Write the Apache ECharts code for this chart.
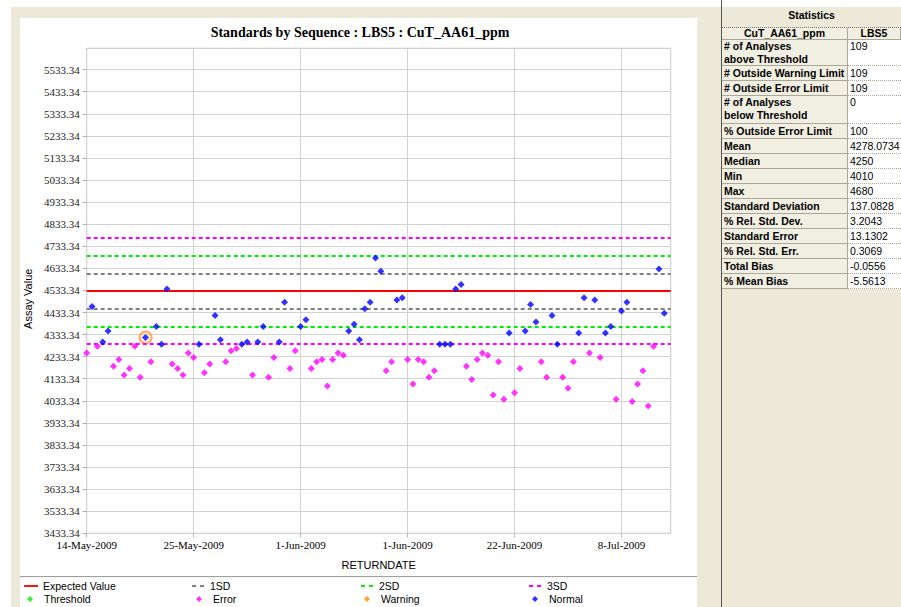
<!DOCTYPE html>
<html>
<head>
<meta charset="utf-8">
<script src="https://cdn.jsdelivr.net/npm/echarts@6/dist/echarts.min.js"></script>
<style>
  html, body { margin:0; padding:0; width:901px; height:607px; background:#fff; overflow:hidden; }
  .abs { position:absolute; box-sizing:border-box; }
  .cell { position:absolute; box-sizing:border-box; font-family:"Liberation Sans", Arial, sans-serif; font-size:10.5px; color:#000; white-space:nowrap; overflow:hidden; }
  .lab { background:#F1EFE2; border-bottom:1px solid #ACA899; border-right:1px solid #ACA899; font-weight:bold; padding-left:2px; line-height:13px; }
  .val { background:#FFFFFF; border-bottom:1px dotted #ACA899; padding-left:2px; line-height:13px; font-size:10.5px; }
</style>
</head>
<body>
<div class="abs" style="left:11px;top:7px;width:890px;height:600px;background:#ECE9D8"></div>
<div class="abs" style="left:20px;top:18px;width:677px;height:589px;background:#FFFFFF"></div>
<div class="abs" style="left:20px;top:576px;width:677px;height:2px;border-top:1px solid #A0A0A0;border-bottom:1px solid #F6F6F6"></div>
<div class="abs" style="left:721px;top:0px;width:1px;height:607px;background:#555"></div>
<div id="chart" class="abs" style="left:0;top:0;width:720px;height:607px"></div>
<div id="stats" class="abs" style="left:722px;top:0;width:179px;height:607px"></div>
<script>
// ---------------- data ----------------
const chartTitle = 'Standards by Sequence : LBS5 : CuT_AA61_ppm';
const assayValues = [
  4250, 4460, 4280, 4300, 4350, 4190, 4220, 4150, 4180, 4280,
  4140, 4320, 4210, 4370, 4290, 4540, 4200, 4180, 4150, 4250,
  4230, 4290, 4160, 4200, 4420, 4310, 4210, 4260, 4270, 4290,
  4300, 4150, 4300, 4370, 4140, 4230, 4300, 4480, 4180, 4260,
  4370, 4400, 4180, 4210, 4220, 4100, 4220, 4250, 4240, 4350,
  4380, 4310, 4450, 4480, 4680, 4620, 4170, 4210, 4490, 4500,
  4220, 4110, 4220, 4210, 4140, 4170, 4290, 4290, 4290, 4540,
  4560, 4190, 4130, 4220, 4250, 4240, 4060, 4210, 4040, 4340,
  4070, 4180, 4350, 4470, 4390, 4210, 4140, 4420, 4290, 4140,
  4090, 4210, 4340, 4500, 4250, 4490, 4230, 4340, 4370, 4040,
  4440, 4480, 4030, 4110, 4170, 4010, 4280, 4630, 4430
];
// E = Error, N = Normal
const statusCodes = [
  'E','N','E','N','N','E','E','E','E','E',
  'E','N','E','N','N','N','E','E','E','E',
  'E','N','E','E','N','N','E','E','E','N',
  'N','E','N','N','E','E','N','N','E','E',
  'N','N','E','E','E','E','E','E','E','N',
  'N','N','N','N','N','N','E','E','N','N',
  'E','E','E','E','E','E','N','N','N','N',
  'N','E','E','E','E','E','E','E','E','N',
  'E','E','N','N','N','E','E','N','N','E',
  'E','E','N','N','E','N','E','N','N','E',
  'N','N','E','E','E','E','E','N','N'
];
const highlightedIndex = [11];
const expectedValue = [4530];
const sd1Limits = [4450, 4610];
const sd2Limits = [4370, 4690];
const sd3Limits = [4290, 4770];
const xTickIndex = [0, 20, 40, 60, 80, 100];
const xTickLabels = ['14-May-2009', '25-May-2009', '1-Jun-2009', '1-Jun-2009', '22-Jun-2009', '8-Jul-2009'];
const yAxisMin = 3433.34, yAxisMax = 5630, yAxisStep = 100, yAxisTopLabel = 5533.34;
const xAxisMax = 109.2;

const statHeader = ['CuT_AA61_ppm', 'LBS5'];
const statLabels = [
  '# of Analyses<br>above Threshold', '# Outside Warning Limit', '# Outside Error Limit',
  '# of Analyses<br>below Threshold', '% Outside Error Limit', 'Mean', 'Median', 'Min', 'Max',
  'Standard Deviation', '% Rel. Std. Dev.', 'Standard Error', '% Rel. Std. Err.', 'Total Bias', '% Mean Bias'
];
const statValues = ['109', '109', '109', '0', '100', '4278.0734', '4250', '4010', '4680',
  '137.0828', '3.2043', '13.1302', '0.3069', '-0.0556', '-5.5613'];

// ---------------- stats table (HTML) ----------------
(function buildStats() {
  const host = document.getElementById('stats');
  let html = '';
  html += '<div class="cell" style="left:0;top:7px;width:179px;height:21px;border-bottom:1px dotted #777;text-align:center;font-weight:bold;line-height:16px;">Statistics</div>';
  html += '<div class="cell lab" style="left:0;top:28px;width:126px;height:12px;line-height:11px;text-align:center;padding:0;">' + statHeader[0] + '</div>';
  html += '<div class="cell lab" style="left:126px;top:28px;width:53px;height:12px;line-height:11px;text-align:center;padding:0;">' + statHeader[1] + '</div>';
  let y = 40;
  statLabels.forEach((lab, i) => {
    const h = lab.indexOf('<br>') >= 0 ? (i === 0 ? 26 : 28) : 15;
    const pad = lab.indexOf('<br>') >= 0 ? 0 : 1;
    html += '<div class="cell lab" style="left:0;top:' + y + 'px;width:126px;height:' + h + 'px;padding-top:' + pad + 'px;">' + lab + '</div>';
    html += '<div class="cell val" style="left:126px;top:' + y + 'px;width:53px;height:' + h + 'px;padding-top:' + pad + 'px;">' + statValues[i] + '</div>';
    y += h;
  });
  host.innerHTML = html;
})();

// ---------------- chart ----------------
const errorData = [], normalData = [], highlightData = [];
assayValues.forEach((v, i) => {
  if (statusCodes[i] === 'E') errorData.push([i, v]); else normalData.push([i, v]);
});
highlightedIndex.forEach(i => highlightData.push([i, assayValues[i]]));

function limitSeries(name, color, type, values) {
  return {
    name: name, type: 'line', data: [], symbol: 'none', z: 2,
    lineStyle: { color: color, width: 2, type: type },
    itemStyle: { color: color },
    markLine: {
      silent: true, symbol: ['none', 'none'], animation: false,
      label: { show: false },
      lineStyle: { color: color, width: 2, type: type },
      data: values.map(v => ({ yAxis: v }))
    }
  };
}
function pointSeries(name, color, data, z) {
  return {
    name: name, type: 'scatter', symbol: 'diamond', symbolSize: 7, z: z || 4,
    itemStyle: { color: color }, data: data
  };
}

const legendFont = { fontFamily: 'Liberation Sans, Arial, sans-serif', fontSize: 10.5, color: '#000', lineHeight: 12 };
const solidIcon = 'path://M0,0h15v2h-15z';
const dashIcon = 'path://M0,0h4v2h-4zM8,0h4v2h-4z';
const diamondIcon = 'path://M3,0L6,3L3,6L0,3Z';
function legendAt(name, left, top, icon) {
  const isLine = icon !== diamondIcon;
  return {
    data: [{ name: name, icon: icon }], left: left, top: top, padding: 0, selectedMode: false,
    itemWidth: isLine ? 14 : 6, itemHeight: isLine ? 2 : 6, itemGap: 0,
    textStyle: Object.assign({}, legendFont, isLine ? {} : { padding: [0, 0, 0, 6] })
  };
}

const chart = echarts.init(document.getElementById('chart'), null, { renderer: 'svg', width: 720, height: 607 });
chart.setOption({
  animation: false,
  backgroundColor: 'transparent',
  title: {
    text: chartTitle, left: 'center', top: 25, padding: 0,
    textStyle: { fontFamily: 'Liberation Serif, Times New Roman, serif', fontWeight: 'bold', fontSize: 14, color: '#000' }
  },
  legend: [
    legendAt('Expected Value', 24, 580, solidIcon),
    legendAt('1SD', 192, 580, dashIcon),
    legendAt('2SD', 361, 580, dashIcon),
    legendAt('3SD', 529, 580, dashIcon),
    legendAt('Threshold', 27, 593, diamondIcon),
    legendAt('Error', 196, 593, diamondIcon),
    legendAt('Warning', 364, 593, diamondIcon),
    legendAt('Normal', 532, 593, diamondIcon)
  ],
  grid: { left: 86.7, top: 48.3, width: 584, height: 485, show: true, borderColor: '#C4C4C4', borderWidth: 1, backgroundColor: 'transparent' },
  xAxis: {
    type: 'value', min: 0, max: xAxisMax, interval: 20,
    name: 'RETURNDATE', nameLocation: 'middle', nameGap: 26,
    nameTextStyle: { fontFamily: 'Liberation Sans, Arial, sans-serif', fontSize: 11, color: '#000' },
    axisLine: { show: false },
    axisTick: { show: true, length: 4, lineStyle: { color: '#B0B0B0' } },
    splitLine: { show: true, lineStyle: { color: '#D2D2D2', width: 1 } },
    axisLabel: {
      showMaxLabel: false, margin: 6,
      fontFamily: 'Liberation Serif, Times New Roman, serif', fontSize: 11, color: '#000',
      formatter: function (v) { const k = xTickIndex.indexOf(Math.round(v)); return (k >= 0 && Math.abs(v - xTickIndex[k]) < 1e-6) ? xTickLabels[k] : ''; }
    }
  },
  yAxis: {
    type: 'value', min: yAxisMin, max: yAxisMax, interval: yAxisStep,
    name: 'Assay Value', nameLocation: 'middle', nameGap: 47, nameRotate: 90,
    nameTextStyle: { fontFamily: 'Liberation Sans, Arial, sans-serif', fontSize: 11, color: '#000', padding: [0, 16, 0, 0] },
    axisLine: { show: false },
    axisTick: { show: true, length: 4, lineStyle: { color: '#B0B0B0' } },
    splitLine: { show: true, lineStyle: { color: '#D2D2D2', width: 1 } },
    axisLabel: {
      showMaxLabel: false, margin: 7,
      fontFamily: 'Liberation Serif, Times New Roman, serif', fontSize: 11, color: '#222',
      formatter: function (v) { return v > yAxisTopLabel + 0.5 ? '' : v.toFixed(2); }
    }
  },
  series: [
    limitSeries('Expected Value', '#FF0000', 'solid', expectedValue),
    limitSeries('1SD', '#808080', [4, 3], sd1Limits),
    limitSeries('2SD', '#00EE00', [4, 3], sd2Limits),
    limitSeries('3SD', '#FF00FF', [4, 3], sd3Limits),
    pointSeries('Threshold', '#00EE00', []),
    pointSeries('Error', '#FF00FF', errorData),
    pointSeries('Warning', '#FF8C00', []),
    pointSeries('Normal', '#0000FF', normalData, 5),
    {
      name: 'highlight', type: 'scatter', symbol: 'circle', symbolSize: 12, z: 3,
      itemStyle: { color: 'rgba(255,180,100,0.25)', borderColor: '#FF9A3C', borderWidth: 2 },
      data: highlightData
    }
  ]
});
</script>
</body>
</html>
